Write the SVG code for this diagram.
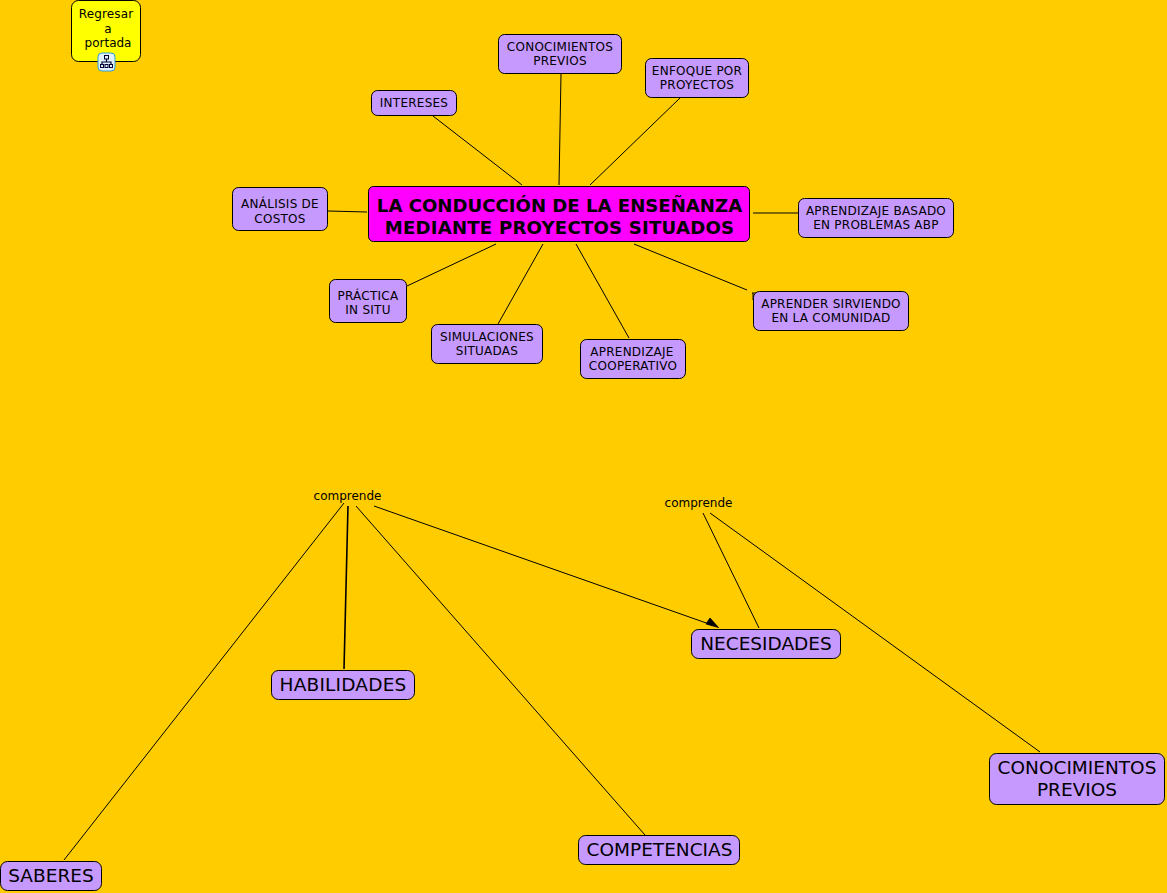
<svg xmlns="http://www.w3.org/2000/svg" width="1167" height="893" viewBox="0 0 1167 893">
<style>
text{font-family:"DejaVu Sans",Verdana,sans-serif;fill:#000;text-anchor:middle}
.b{fill:#c699ff;stroke:#000;stroke-width:1}
.s{font-size:12px;letter-spacing:.25px}
.t{font-size:12px}
.l{font-size:18.5px}
.m{font-size:18.1px;font-weight:700}
.c line{stroke:#000;stroke-width:1}
</style>
<rect width="1167" height="893" fill="#ffcc00"/>
<g id="connectors" class="c">
<line x1="433" y1="116" x2="522" y2="185"/>
<line x1="561" y1="74" x2="559" y2="185"/>
<line x1="680" y1="98" x2="590" y2="185"/>
<line x1="328" y1="211" x2="367" y2="212"/>
<line x1="753" y1="213" x2="798" y2="213"/>
<line x1="407" y1="286" x2="496" y2="244"/>
<line x1="498" y1="324" x2="543" y2="244"/>
<line x1="629" y1="338" x2="576" y2="244"/>
<line x1="634" y1="244" x2="747" y2="290"/>
<line x1="344" y1="503" x2="64" y2="860"/>
<line x1="348" y1="506" x2="344" y2="669" style="stroke-width:1.6"/>
<line x1="356" y1="506" x2="645" y2="835"/>
<line x1="374" y1="506" x2="712" y2="625"/>
<path d="M710 618L718.500 627.500L706 624Z" fill="#000" stroke="#000" stroke-width=".8"/>
<line x1="703" y1="513" x2="759" y2="628"/>
<line x1="710" y1="513" x2="1040" y2="752"/>
<path d="M752 293h4M753 293v7" fill="none" stroke="#000" stroke-width="1"/>
</g>
<g id="regresar"><rect x="71.500" y="0.500" width="69" height="61" rx="7" fill="#ffff00" stroke="#000"/>
<text class="t" x="106" y="18" letter-spacing=".15">Regresar</text><text class="t" x="108" y="33">a</text><text class="t" x="108" y="47">portada</text>
<rect x="98" y="53" width="17" height="18" rx="4" fill="#dff1fb" stroke="#2f9fd8"/>
<path d="M106.500 59v3M102 65v-3h9v3" fill="none" stroke="#003" stroke-width="1.200"/>
<rect x="104.500" y="55.500" width="4" height="3.500" fill="none" stroke="#003"/><rect x="100.500" y="64.500" width="3" height="3" fill="none" stroke="#003"/><rect x="105" y="64.500" width="3" height="3" fill="none" stroke="#003"/><rect x="109.500" y="64.500" width="3" height="3" fill="none" stroke="#003"/></g>
<g id="main"><rect x="368.500" y="186.500" width="381" height="55" rx="5" fill="#ff00ff" stroke="#000"/>
<text class="m" x="559.500" y="211.500">LA CONDUCCIÓN DE LA ENSEÑANZA</text><text class="m" x="559.500" y="233.500" letter-spacing=".22">MEDIANTE PROYECTOS SITUADOS</text></g>
<g id="intereses"><rect class="b" x="371.500" y="90.500" width="85" height="25" rx="6"/><text class="s" x="414" y="107">INTERESES</text></g>
<g id="conocimientos1"><rect class="b" x="498.500" y="34.500" width="123" height="39" rx="6"/><text class="s" x="560" y="51">CONOCIMIENTOS</text><text class="s" x="560" y="65">PREVIOS</text></g>
<g id="enfoque"><rect class="b" x="645.500" y="58.500" width="103" height="39" rx="6"/><text class="s" x="697" y="75">ENFOQUE POR</text><text class="s" x="697" y="89">PROYECTOS</text></g>
<g id="analisis"><rect class="b" x="232.500" y="187.500" width="95" height="43" rx="6"/><text class="s" x="280" y="208">ANÁLISIS DE</text><text class="s" x="280" y="223">COSTOS</text></g>
<g id="abp"><rect class="b" x="798.500" y="198.500" width="155" height="39" rx="6"/><text class="s" x="876" y="215">APRENDIZAJE BASADO</text><text class="s" x="876" y="229">EN PROBLEMAS ABP</text></g>
<g id="practica"><rect class="b" x="329.500" y="279.500" width="77" height="43" rx="6"/><text class="s" x="368" y="300">PRÁCTICA</text><text class="s" x="368" y="314">IN SITU</text></g>
<g id="simulaciones"><rect class="b" x="431.500" y="324.500" width="111" height="39" rx="6"/><text class="s" x="487" y="341">SIMULACIONES</text><text class="s" x="487" y="355">SITUADAS</text></g>
<g id="cooperativo"><rect class="b" x="580.500" y="339.500" width="105" height="39" rx="6"/><text class="s" x="632" y="356">APRENDIZAJE</text><text class="s" x="633" y="370">COOPERATIVO</text></g>
<g id="servicio"><rect class="b" x="753.500" y="291.500" width="155" height="39" rx="6"/><text class="s" x="831" y="308">APRENDER SIRVIENDO</text><text class="s" x="831" y="322">EN LA COMUNIDAD</text></g>
<g id="comprende1"><text class="t" x="347.500" y="500">comprende</text></g>
<g id="comprende2"><text class="t" x="698.500" y="507">comprende</text></g>
<g id="necesidades"><rect class="b" x="691.500" y="629.500" width="149" height="29" rx="7"/><text class="l" x="766" y="650">NECESIDADES</text></g>
<g id="habilidades"><rect class="b" x="271.500" y="670.500" width="143" height="29" rx="7"/><text class="l" x="343" y="691" letter-spacing=".2">HABILIDADES</text></g>
<g id="competencias"><rect class="b" x="578.500" y="835.500" width="161" height="29" rx="7"/><text class="l" x="659.500" y="856">COMPETENCIAS</text></g>
<g id="saberes"><rect class="b" x="0.500" y="861.500" width="101" height="29" rx="7"/><text class="l" x="51" y="882">SABERES</text></g>
<g id="conocimientos2"><rect class="b" x="989.500" y="753.500" width="175" height="51" rx="7"/><text class="l" x="1077" y="774">CONOCIMIENTOS</text><text class="l" x="1077" y="796">PREVIOS</text></g>
</svg>
